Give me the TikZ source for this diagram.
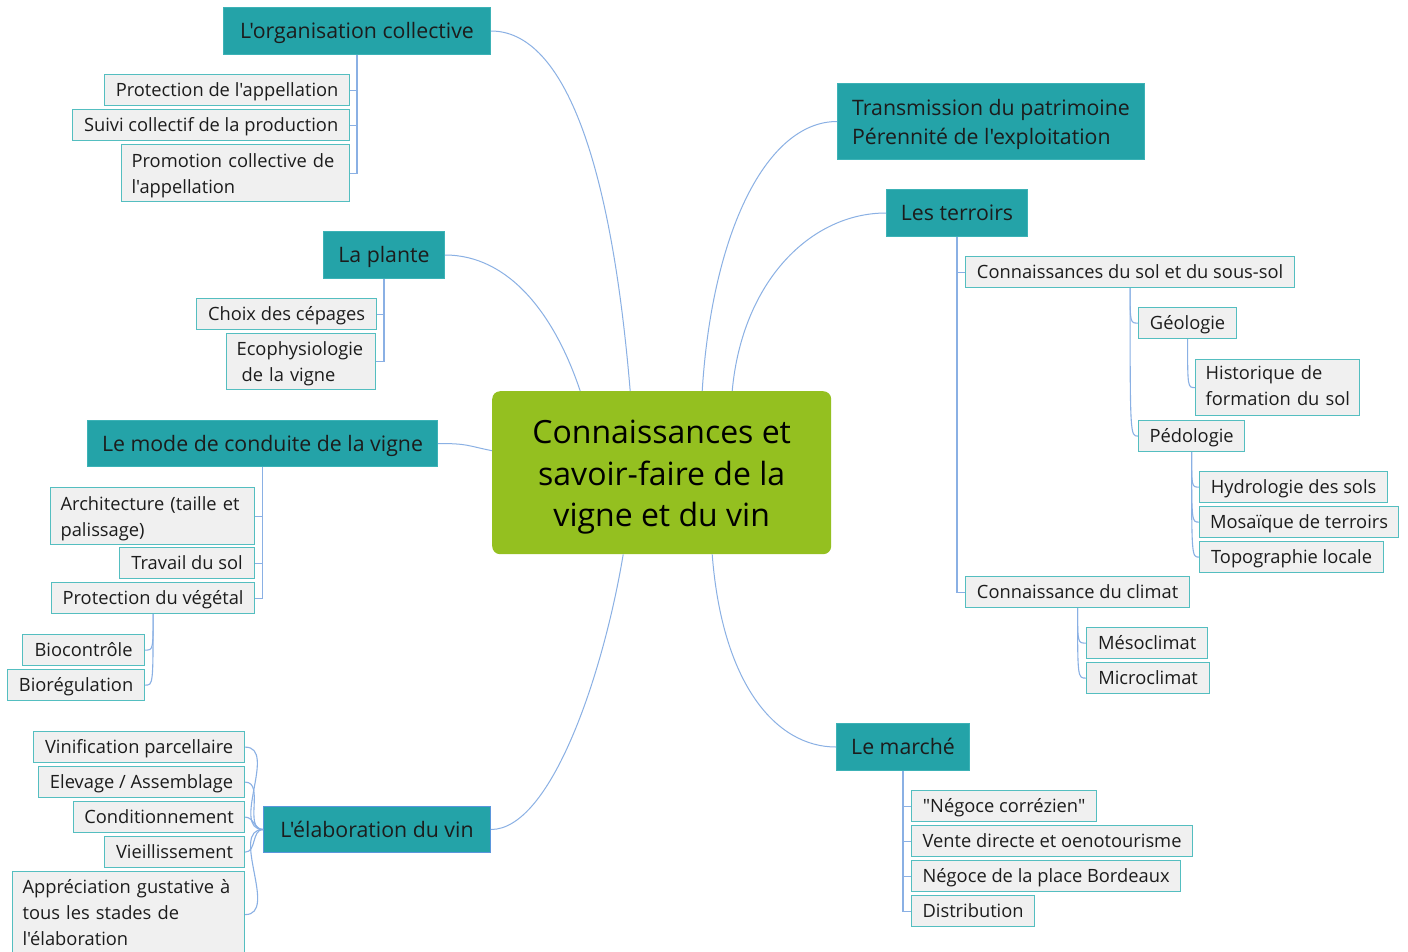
\documentclass[tikz,border=0pt]{standalone}
\usepackage{fontspec}
\setmainfont{Open Sans}[Ligatures=TeXOff]
\definecolor{topicfill}{RGB}{36,163,168}
\definecolor{topicdraw}{RGB}{60,178,182}
\definecolor{subfill}{RGB}{240,240,240}
\definecolor{subdraw}{RGB}{84,190,192}
\definecolor{linkblue}{RGB}{138,176,228}
\definecolor{centerfill}{RGB}{148,192,32}
\definecolor{selblue}{RGB}{90,150,220}
\definecolor{txt}{RGB}{28,28,28}
\newcommand\lowL[2]{\raisebox{-#1}[\height][\depth]{\begin{tabular}{@{}l@{}}#2\end{tabular}}}
\newcommand\lowC[2]{\raisebox{-#1}[\height][\depth]{\begin{tabular}{@{}c@{}}#2\end{tabular}}}
\tikzset{
  topic/.style={anchor=north west, fill=topicfill, draw=topicdraw, line width=1pt, inner sep=0pt, text=txt, font=\fontsize{21.3}{29}\selectfont},
  one/.style={text height=19pt, text depth=4pt},
  sub/.style={anchor=north west, fill=subfill, draw=subdraw, line width=1.2pt, inner sep=0pt, text=txt, font=\fontsize{18.3}{26}\selectfont},
  sone/.style={text height=16pt, text depth=3pt},
  multi/.style={align=left, inner xsep=10pt},
  link/.style={draw=linkblue, line width=1.1pt},
  mainlink/.style={draw=linkblue, line width=1pt},
}
\begin{document}
\begin{tikzpicture}[x=1pt,y=-1pt]
\useasboundingbox[fill=white] (0,0) rectangle (1408,951);
% centre
\node[anchor=north west, fill=centerfill, rounded corners=8pt, inner sep=0pt, minimum width=339pt, minimum height=163pt, text=black, font=\fontsize{32}{41.5}\selectfont] (center) at (492,391) {\lowC{4pt}{Connaissances et\\savoir-faire de la\\vigne et du vin}};
% main topics
\node[topic, one, minimum width=267pt, minimum height=47pt] (org) at (223,7) {L'organisation collective};
\node[topic, minimum width=307pt, minimum height=76pt] (trans) at (837,83) {\lowL{3pt}{Transmission du patrimoine\\Pérennité de l'exploitation}};
\node[topic, one, minimum width=141pt, minimum height=47pt] (terr) at (886,189) {Les terroirs};
\node[topic, one, minimum width=121pt, minimum height=47pt] (plante) at (323,231) {La plante};
\node[topic, one, minimum width=350pt, minimum height=46pt] (mode) at (87,420) {Le mode de conduite de la vigne};
\node[topic, one, minimum width=133pt, minimum height=47pt] (marche) at (836,723) {Le marché};
\node[topic, one, draw=selblue, minimum width=227pt, minimum height=46pt] (elab) at (263,806) {L'élaboration du vin};
% organisation
\node[sub, sone, minimum width=245pt, minimum height=31pt] (p1) at (104,74) {Protection de l'appellation};
\node[sub, sone, minimum width=277pt, minimum height=31pt] (p2) at (72,109) {Suivi collectif de la production};
\node[sub, multi, text width=208pt, minimum height=57pt] (p3) at (121,144) {\lowL{2pt}{Promotion collective de\\l'appellation}};
% plante
\node[sub, sone, minimum width=180pt, minimum height=31pt] (c1) at (196,298) {Choix des cépages};
\node[sub, multi, text width=129pt, minimum height=56pt] (c2) at (226,333) {\lowL{2pt}{Ecophysiologie\\\hspace*{5pt}de la vigne}};
% mode de conduite
\node[sub, multi, text width=184pt, minimum height=57pt] (m1) at (50,487) {\lowL{2pt}{Architecture (taille et\\palissage)}};
\node[sub, sone, minimum width=135pt, minimum height=31pt] (m2) at (119,547) {Travail du sol};
\node[sub, sone, minimum width=203pt, minimum height=31pt] (m3) at (51,582) {Protection du végétal};
\node[sub, sone, minimum width=122pt, minimum height=31pt] (m4) at (22,634) {Biocontrôle};
\node[sub, sone, minimum width=137pt, minimum height=31pt] (m5) at (7,669) {Biorégulation};
% elaboration
\node[sub, sone, minimum width=211pt, minimum height=31pt] (e1) at (33,731) {Vinification parcellaire};
\node[sub, sone, minimum width=206pt, minimum height=31pt] (e2) at (38,766) {Elevage / Assemblage};
\node[sub, sone, minimum width=171pt, minimum height=31pt] (e3) at (73,801) {Conditionnement};
\node[sub, sone, minimum width=140pt, minimum height=31pt] (e4) at (104,836) {Vieillissement};
\node[sub, multi, text width=212pt, minimum height=86pt] (e5) at (12,871) {\lowL{0pt}{Appréciation gustative à\\tous les stades de\\l'élaboration}};
% terroirs
\node[sub, sone, minimum width=329pt, minimum height=31pt] (t1) at (965,256) {Connaissances du sol et du sous-sol};
\node[sub, sone, minimum width=98pt, minimum height=31pt] (t2) at (1138,307) {Géologie};
\node[sub, multi, text width=144pt, minimum height=56pt] (t3) at (1195,359) {\lowL{0pt}{Historique de\\formation du sol}};
\node[sub, sone, minimum width=106pt, minimum height=31pt] (t4) at (1138,420) {Pédologie};
\node[sub, sone, minimum width=188pt, minimum height=31pt] (t5) at (1199,471) {Hydrologie des sols};
\node[sub, sone, minimum width=199pt, minimum height=31pt] (t6) at (1199,506) {Mosaïque de terroirs};
\node[sub, sone, minimum width=184pt, minimum height=31pt] (t7) at (1199,541) {Topographie locale};
\node[sub, sone, minimum width=224pt, minimum height=31pt] (t8) at (965,576) {Connaissance du climat};
\node[sub, sone, minimum width=121pt, minimum height=31pt] (t9) at (1086,627) {Mésoclimat};
\node[sub, sone, minimum width=123pt, minimum height=31pt] (t10) at (1086,662) {Microclimat};
% marche
\node[sub, sone, minimum width=185pt, minimum height=31pt] (k1) at (911,790) {"Négoce corrézien"};
\node[sub, sone, minimum width=281pt, minimum height=31pt] (k2) at (911,825) {Vente directe et oenotourisme};
\node[sub, sone, minimum width=269pt, minimum height=31pt] (k3) at (911,860) {Négoce de la place Bordeaux};
\node[sub, sone, minimum width=123pt, minimum height=31pt] (k4) at (911,895) {Distribution};
% main links
\draw[mainlink] ([xshift=-31.5pt]center.north) .. controls +(-20,-240) and +(70,0) .. (org.east);
\draw[mainlink] ([xshift=-81.5pt]center.north) .. controls +(-25,-75) and +(65,0) .. (plante.east);
\draw[mainlink] ([yshift=22pt]center.west) .. controls +(-25,-5) and +(30,0) .. (mode.east);
\draw[mainlink] ([xshift=-38.5pt]center.south) .. controls +(-20,120) and +(60,0) .. (elab.east);
\draw[mainlink] ([xshift=40.5pt]center.north) .. controls +(10,-160) and +(-70,0) .. (trans.west);
\draw[mainlink] ([xshift=70.5pt]center.north) .. controls +(10,-110) and +(-75,0) .. (terr.west);
\draw[mainlink] ([xshift=50.5pt]center.south) .. controls +(10,130) and +(-60,0) .. (marche.west);
% branch links
\foreach \n in {p1,p2,p3} \draw[link] (org.south) |- (\n.east);
\foreach \n in {c1,c2} \draw[link] (plante.south) |- (\n.east);
\foreach \n in {m1,m2,m3} \draw[link] (mode.south) |- (\n.east);
\foreach \n in {m4,m5} \draw[link] (m3.south) .. controls (m3.south |- \n.east) and (m3.south |- \n.east) .. (\n.east);
\foreach \n in {e1,e2,e3,e4,e5} \draw[link] (elab.west) to[out=180,in=0] (\n.east);
\foreach \n in {t1,t8} \draw[link] (terr.south) |- (\n.west);
\foreach \n in {t2,t4} \draw[link] (t1.south) .. controls (t1.south |- \n.west) and (t1.south |- \n.west) .. (\n.west);
\draw[link] (t2.south) .. controls (t2.south |- t3.west) and (t2.south |- t3.west) .. (t3.west);
\foreach \n in {t5,t6,t7} \draw[link] (t4.south) .. controls (t4.south |- \n.west) and (t4.south |- \n.west) .. (\n.west);
\foreach \n in {t9,t10} \draw[link] (t8.south) .. controls (t8.south |- \n.west) and (t8.south |- \n.west) .. (\n.west);
\foreach \n in {k1,k2,k3,k4} \draw[link] (marche.south) |- (\n.west);
\end{tikzpicture}
\end{document}
